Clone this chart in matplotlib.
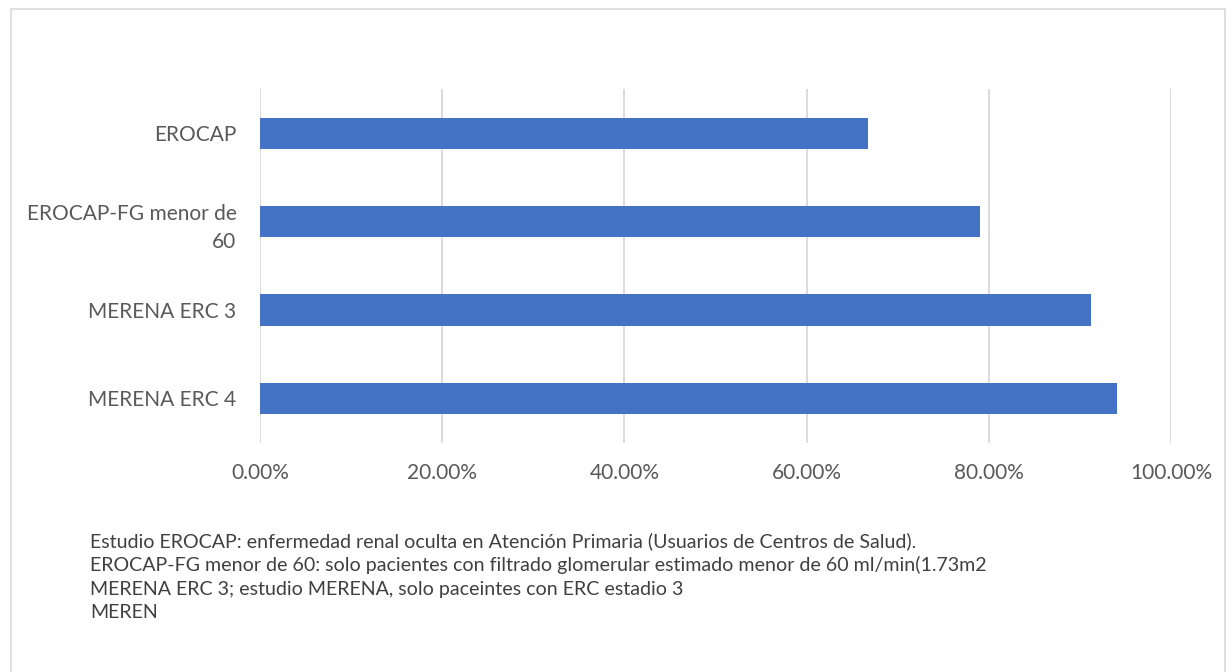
import matplotlib.pyplot as plt
from matplotlib.patches import Rectangle
from matplotlib.ticker import FuncFormatter

# data
categories = ['EROCAP', 'EROCAP-FG menor de\n60', 'MERENA ERC 3', 'MERENA ERC 4']
values = [0.667, 0.790, 0.912, 0.941]
x_ticks = [0.0, 0.2, 0.4, 0.6, 0.8, 1.0]
notes = [
    'Estudio EROCAP: enfermedad renal oculta en Atención Primaria (Usuarios de Centros de Salud).',
    'EROCAP-FG menor de 60: solo pacientes con filtrado glomerular estimado menor de 60 ml/min(1.73m2',
    'MERENA ERC 3; estudio MERENA, solo paceintes con ERC estadio 3',
    'MEREN',
]

plt.rcParams['font.family'] = ['Lato', 'DejaVu Sans']
grey = '#595959'
W, H = 1227, 672

fig = plt.figure(figsize=(W / 100, H / 100), dpi=100)
fig.patches.append(Rectangle((11 / W, -0.01), (1225 - 11) / W, (H - 9) / H + 0.01,
                             transform=fig.transFigure, fill=False,
                             edgecolor='#d9d9d9', linewidth=1.2))

ax = fig.add_axes([260 / W, (H - 442.6) / H, (1171 - 260) / W, (442.6 - 89) / H])
ypos = list(range(len(categories)))
ax.barh(ypos, values, height=0.355, color='#4472c4', zorder=3)
ax.set_ylim(len(categories) - 0.5, -0.5)
ax.set_xlim(0, 1.0)
ax.set_yticks(ypos)
ax.set_yticklabels(categories, linespacing=1.55)
ax.set_xticks(x_ticks)
ax.xaxis.set_major_formatter(FuncFormatter(lambda v, p: f'{v * 100:.2f}%'))
ax.grid(axis='x', color='#d9d9d9', linewidth=1.3, zorder=0)
for s in ax.spines.values():
    s.set_visible(False)
ax.tick_params(axis='both', length=0, labelsize=15, labelcolor=grey)
ax.tick_params(axis='x', pad=15)
ax.tick_params(axis='y', pad=17)

for i, line in enumerate(notes):
    fig.text(90 / W, 1 - (541 + 24 * i) / H, line, fontsize=14.1, color='#404040',
             ha='left', va='center')

fig.savefig('out.png', dpi=100, facecolor='white')
